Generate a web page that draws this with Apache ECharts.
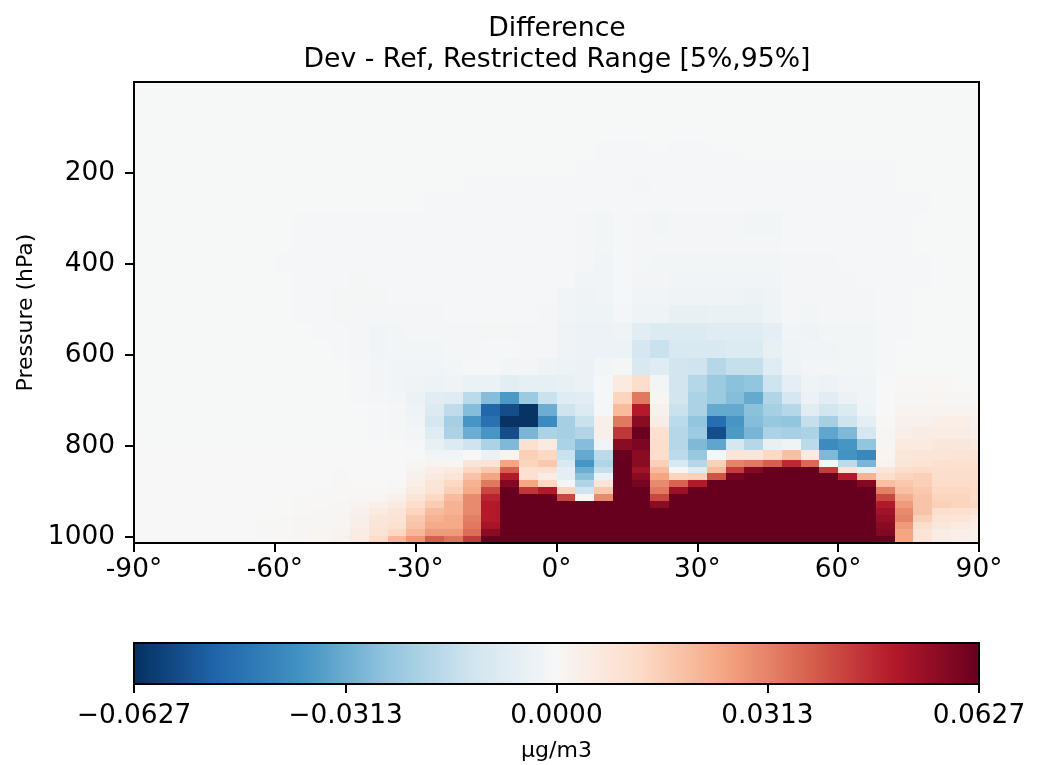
<!DOCTYPE html>
<html><head><meta charset="utf-8">
<style>html,body{margin:0;padding:0;background:#fff}#c{width:1053px;height:765px}</style>
<script src="https://cdn.jsdelivr.net/npm/echarts@6/dist/echarts.min.js"></script>
</head><body><div id="c"></div>
<script>
const titleLines = ['Difference', 'Dev - Ref, Restricted Range [5%,95%]'];
const yName = 'Pressure (hPa)';
const unitName = 'µg/m3';
const latTicks = [-90, -60, -30, 0, 30, 60, 90];
const pressureTicks = [200, 400, 600, 800, 1000];
const colorbarTicks = [-0.0627, -0.0313, 0, 0.0313, 0.0627];
const colorMin = -0.0627, colorMax = 0.0627;
const rdBuR = ['#053061','#2166ac','#4393c3','#92c5de','#d1e5f0','#f7f7f7','#fddbc7','#f4a582','#d6604d','#b2182b','#67001f'];
const latEdges = [-90,-88,-84,-80,-76,-72,-68,-64,-60,-56,-52,-48,-44,-40,-36,-32,-28,-24,-20,-16,-12,-8,-4,0,4,8,12,16,20,24,28,32,36,40,44,48,52,56,60,64,68,72,76,80,84,88,90];
const pressureEdges = [1013.25,998.05,982.76,967.48,952.19,936.91,921.62,906.34,891.05,875.77,860.48,845.21,829.93,809.55,784.08,758.6,733.13,707.65,682.18,643.96,605.75,567.54,529.33,491.12,452.9,414.69,376.48,338.27,288.08,244.88,208.15,176.93,150.39,127.84,0.01];
// Difference in units of 1e-3 ug/m3: one row per level, surface first, west to east.
const diffRows = [
[0,0,0,0,0,0,0,.3,.5,1,1.2,2.2,6,12,21,28,38,34,44,63,63,63,63,63,63,63,63,63,63,63,63,63,63,63,63,63,63,63,63,63,62,25,9,5,4,3],
[0,0,0,0,0,0,0,.3,.5,.8,1.2,2,5,9,13,21,27,27,35,57,63,63,63,63,63,63,63,63,63,63,63,63,63,63,63,63,63,63,63,63,58,25,9,5,4,3],
[0,0,0,0,0,0,0,.3,.4,.8,1,1.5,4,8,10,18,24,24,33,52,63,63,63,63,63,63,63,63,63,63,63,63,63,63,63,63,63,63,63,63,57,27,11,7,6,4],
[0,0,0,0,0,0,0,.2,.3,.7,1,1.5,4,7,9,17,22,24,32,50,63,63,63,63,63,63,63,63,63,63,63,63,63,63,63,63,63,63,63,63,55,31,15,9,8,6],
[0,0,0,0,0,0,0,0,.2,.5,.8,1,3,6,8,14,20,22,30,50,63,63,63,63,63,63,63,63,63,63,63,63,63,63,63,63,63,63,63,63,53,30,18,11,10,9],
[0,0,0,0,0,0,0,0,.2,.4,.6,1,2,4,6,11,16,22,30,50,63,63,63,63,63,63,63,63,57,63,63,63,63,63,63,63,63,63,63,63,50,27,18,15,14,13],
[0,0,0,0,0,0,0,0,0,.3,.5,.5,1,1.5,3,8,13,20,30,48,63,63,63,42,1,30,63,63,42,63,63,63,63,63,63,63,63,63,63,63,42,23,18,14,14,12],
[0,0,0,0,0,0,0,0,0,0,.3,.5,.5,.5,1.5,6,9,15,24,42,63,45,50,14,-13,17,63,63,33,54,63,63,63,63,63,63,63,63,63,63,32,19,17,13,13,12],
[0,0,0,0,0,0,0,0,0,0,0,.3,0,-.1,.3,4,8,13,22,33,58,25,13,-1,-19,8,63,60,30,37,50,63,63,63,63,63,63,63,63,58,19,17,15,12,12,11],
[0,0,0,0,0,0,0,0,0,0,0,.3,-.1,-.1,0,3,6,8,18,25,50,10,5,-6,-26,-4,63,57,25,14,15,40,60,63,63,63,63,63,50,22,11,14,15,11,11,11],
[0,0,0,0,0,0,0,0,0,0,0,.3,0,0,0,2,4,6,13,17,38,10,10,-6,-31,-15,63,53,20,1,-8,20,44,58,63,63,63,44,9,-5,8,11,12,11,11,11],
[0,0,0,0,0,0,0,0,0,0,0,0,0,0,0,1,2,1.5,8,9,25,14,17,-10,-37,-19,63,57,15,-10,-18,15,31,33,38,47,36,-1,-17,-29,2,8,9,10,10,10],
[0,0,0,0,0,0,0,0,0,0,0,0,0,0,0,-.3,-2,-2,0,-4,2,15,13,-14,-32,-17,63,57,11,-17,-24,-1,8,7,13,19,6,-28,-38,-41,1.5,7,8,8,9,9],
[0,0,0,0,0,0,0,0,0,0,0,0,0,0,-.3,-.7,-5,-9,-13,-20,-28,10,6,-20,-27,-2,57,59,11,-18,-28,-33,-11,-18,-5,-3,-17,-40,-37,-25,1,6,6,7,7,6],
[-.2,-.2,-.2,-.2,-.2,-.2,-.2,-.2,-.2,-.2,-.2,-.2,-.3,-.6,-1,-1.5,-8,-20,-31,-37,-56,-29,-20,-21,-19,4,45,62,10,-18,-23,-56,-36,-29,-20,-21,-20,-33,-28,-11,1,4,5,5,5,4],
[-.2,-.2,-.2,-.2,-.2,-.2,-.2,-.2,-.2,-.2,-.2,-.2,-.3,-.6,-1,-2,-11,-21,-37,-47,-62,-62,-40,-21,-14,4,33,57,5,-17,-25,-48,-37,-27,-24,-25,-15,-21,-13,-6,.5,3,3,4,4,3],
[-.3,-.3,-.3,-.3,-.3,-.3,-.3,-.3,-.3,-.3,-.3,-.2,-.3,-.6,-1,-3,-9,-16,-27,-50,-56,-62,-31,-13,-9,-.5,20,50,3,-14,-20,-32,-32,-26,-21,-18,-7,-12,-9,-3,0,2,2,2,2,2],
[-.3,-.3,-.3,-.3,-.3,-.3,-.3,-.3,-.3,-.3,-.3,-.2,-.6,-1,-1.5,-4,-7,-8,-17,-27,-36,-23,-14,-8,-7,-.5,14,33,1.5,-12,-20,-23,-27,-32,-19,-11,-4,-7,-4,-2,0,1,1,1.5,1,.5],
[-.3,-.3,-.3,-.3,-.3,-.3,-.3,-.3,-.3,-.3,-.3,-.3,-.7,-1.8,-2.2,-2.8,-3.5,-2.5,-3.8,-3.8,-6.5,-5.5,-5.5,-5,-4,-.6,6,11,-1.5,-12,-18,-23,-26,-25,-13,-6,-3,-3.5,-2,-2,0,.5,.5,.5,.2,0],
[-.3,-.3,-.3,-.3,-.3,-.3,-.3,-.3,-.3,-.3,-.3,-.3,-.8,-1.8,-2.2,-2,-2,-1.5,-.8,-.8,-1.5,-1.8,-3,-3.5,-4,-1.5,-1,-10,-8,-12,-13,-18,-15,-15,-8,-3,-1.8,-1.8,-1.5,-1.5,-.6,-.3,-.3,-.3,-.3,-.3],
[-.3,-.3,-.3,-.3,-.3,-.3,-.3,-.3,-.3,-.3,-.3,-.5,-.9,-2,-1.8,-1.6,-1.6,-1.2,-1.2,-.8,-.8,-1.2,-1.4,-2.5,-3.5,-3.5,-3.5,-11,-14,-10,-10,-10,-9,-9,-5,-2.5,-2,-2,-1.5,-1.5,-.6,-.3,-.3,-.3,-.3,-.3],
[-.3,-.3,-.3,-.3,-.3,-.3,-.3,-.3,-.3,-.3,-.5,-.8,-1.1,-2,-1.5,-1.1,-1.1,-1.1,-1.1,-1,-1,-1.1,-1.1,-2.5,-3.5,-3.5,-2.5,-7,-9,-9,-9,-8,-8,-8,-6,-2,-2.5,-1.5,-1.5,-1.5,-.6,-.6,-.3,-.3,-.3,-.3],
[-.3,-.3,-.3,-.3,-.3,-.3,-.3,-.3,-.3,-.8,-.8,-.9,-1.1,-1.4,-1.4,-1.1,-1.1,-.8,-.8,-.8,-.8,-.8,-1.1,-2.4,-3,-3,-1.1,-2.5,-3,-5,-5,-4.5,-4.5,-4.5,-3,-1.4,-1.6,-1.4,-1.4,-1,-.6,-.5,-.3,-.3,-.3,-.3],
[-.3,-.3,-.3,-.3,-.3,-.3,-.3,-.3,-.3,-.8,-.8,-.9,-1,-.9,-.8,-.8,-.8,-.8,-.8,-.8,-.8,-.8,-.8,-2,-2.6,-2.4,-.8,-2,-2,-2.6,-2.6,-2.8,-2.8,-3.2,-2.6,-1.4,-1.4,-1.4,-1.2,-1,-.6,-.6,-.3,-.3,-.3,-.3],
[-.3,-.3,-.3,-.3,-.3,-.3,-.3,-.3,-.3,-.8,-.8,-.8,-.9,-.8,-.8,-.8,-.8,-.8,-.8,-.8,-.8,-.8,-.8,-.8,-1.9,-2,-.8,-1.8,-1.8,-2,-2,-2,-2,-2,-2,-1.4,-1.4,-1.4,-1,-.8,-.8,-.8,-.8,-.3,-.3,-.3],
[-.3,-.3,-.3,-.3,-.3,-.3,-.3,-.3,-.8,-.8,-.8,-.8,-.8,-.8,-.8,-.8,-.8,-.8,-.8,-.8,-.8,-.8,-.8,-.8,-1.2,-2,-.8,-1.1,-1.5,-1.6,-1.6,-1.6,-1.6,-1.6,-1.6,-1.1,-1.1,-1.1,-.8,-.8,-.8,-.8,-.8,-.3,-.3,-.3],
[-.3,-.3,-.3,-.3,-.3,-.3,-.3,-.3,-.3,-.8,-.8,-.8,-.8,-.8,-.8,-.8,-.8,-.8,-.8,-.8,-.8,-.8,-.8,-.8,-1.2,-1.7,-.8,-1.1,-1.4,-1.4,-1.4,-1.4,-1.4,-1.4,-1.2,-.8,-.8,-.8,-.8,-.8,-.8,-.8,-.3,-.3,-.3,-.3],
[-.3,-.3,-.3,-.3,-.3,-.3,-.3,-.3,-.3,-.8,-.8,-.8,-.8,-.8,-.8,-.8,-.8,-.8,-.8,-.8,-.8,-.8,-.8,-.8,-1.1,-1.6,-.8,-1.1,-1.5,-1.1,-1.1,-1.1,-1.1,-1.5,-1.5,-.8,-.8,-.8,-.8,-.8,-.8,-.8,-.3,-.3,-.3,-.3],
[-.3,-.3,-.3,-.3,-.3,-.3,-.3,-.3,-.3,-.3,-.3,-.3,-.3,-.3,-.3,-.3,-.8,-.8,-.8,-.8,-.8,-.8,-.8,-.8,-.8,-.8,-.8,-.8,-.8,-.8,-.8,-.8,-.8,-.8,-.8,-.8,-.8,-.8,-.8,-.8,-.8,-.8,-.8,-.3,-.3,-.3],
[-.3,-.3,-.3,-.3,-.3,-.3,-.3,-.3,-.3,-.3,-.3,-.3,-.3,-.3,-.3,-.3,-.3,-.3,-.8,-.8,-.8,-.8,-.8,-.8,-.8,-.8,-.8,-1.2,-.8,-.8,-.8,-.8,-.8,-.8,-.8,-.8,-.8,-.8,-.8,-.8,-.8,-.3,-.3,-.3,-.3,-.3],
[-.3,-.3,-.3,-.3,-.3,-.3,-.3,-.3,-.3,-.3,-.3,-.3,-.3,-.3,-.3,-.3,-.3,-.3,-.3,-.3,-.3,-.3,-.3,-.3,-.8,-.8,-.8,-.8,-.8,-.8,-.8,-.8,-.8,-.8,-.8,-.8,-.8,-.8,-.8,-.8,-.8,-.3,-.3,-.3,-.3,-.3],
[-.3,-.3,-.3,-.3,-.3,-.3,-.3,-.3,-.3,-.3,-.3,-.3,-.3,-.3,-.3,-.3,-.3,-.3,-.3,-.3,-.3,-.3,-.3,-.3,-.3,-.8,-.8,-.8,-.8,-.8,-.8,-.8,-.8,-.3,-.3,-.3,-.3,-.3,-.3,-.3,-.3,-.3,-.3,-.3,-.3,-.3],
[-.3,-.3,-.3,-.3,-.3,-.3,-.3,-.3,-.3,-.3,-.3,-.3,-.3,-.3,-.3,-.3,-.3,-.3,-.3,-.3,-.3,-.3,-.3,-.3,-.3,-.8,-.8,-.8,-.3,-.8,-.8,-.3,-.3,-.3,-.3,-.3,-.3,-.3,-.3,-.3,-.3,-.3,-.3,-.3,-.3,-.3],
[-.3,-.3,-.3,-.3,-.3,-.3,-.3,-.3,-.3,-.3,-.3,-.3,-.3,-.3,-.3,-.3,-.3,-.3,-.3,-.3,-.3,-.3,-.3,-.3,-.3,-.3,-.3,-.3,-.3,-.3,-.3,-.3,-.3,-.3,-.3,-.3,-.3,-.3,-.3,-.3,-.3,-.3,-.3,-.3,-.3,-.3]
];

const FONT = '"DejaVu Sans"';
const cells = [];
diffRows.forEach((row, r) => row.forEach((v, k) => {
  cells.push([latEdges[k], latEdges[k + 1], pressureEdges[r], pressureEdges[r + 1], Math.min(v / 1000, colorMax)]);
}));
const chart = echarts.init(document.getElementById('c'), null, {renderer: 'canvas'});
const axisLine = {show: true, onZero: false, lineStyle: {color: '#000', width: 2}};
const axisTick = {show: true, length: 9, lineStyle: {color: '#000', width: 2}};
chart.setOption({
  animation: false,
  backgroundColor: '#fff',
  title: {
    text: titleLines.join('\n'), left: 552, top: 9, textAlign: 'center',
    textStyle: {fontFamily: FONT, fontSize: 26.7, fontWeight: 'normal', color: '#000', lineHeight: 31}
  },
  grid: [
    {left: 134, top: 82, width: 845, height: 461, show: true, borderColor: '#000', borderWidth: 2, backgroundColor: 'transparent', z: 10},
    {left: 134, top: 643, width: 845, height: 41, show: true, borderColor: '#000', borderWidth: 2, backgroundColor: 'transparent', z: 10}
  ],
  xAxis: [
    {type: 'value', gridIndex: 0, min: -90, max: 90, interval: 30, splitLine: {show: false}, axisLine, axisTick,
     axisLabel: {fontFamily: FONT, fontSize: 26.4, color: '#000', margin: 14, showMinLabel: true, showMaxLabel: true, formatter: v => v + '°'}},
    {type: 'value', gridIndex: 1, min: colorMin, max: colorMax, splitLine: {show: false}, axisLine,
     axisTick: {...axisTick, customValues: colorbarTicks},
     axisLabel: {fontFamily: FONT, fontSize: 26.4, color: '#000', margin: 19, customValues: colorbarTicks,
       formatter: v => (v < 0 ? '\u2212' : '') + Math.abs(v).toFixed(4)},
     name: unitName, nameLocation: 'middle', nameGap: 56, nameTextStyle: {fontFamily: FONT, fontSize: 22, color: '#000'}}
  ],
  yAxis: [
    {type: 'value', gridIndex: 0, inverse: true, min: 0.01, max: 1013.25, splitLine: {show: false}, axisLine,
     axisTick: {...axisTick, customValues: pressureTicks},
     axisLabel: {fontFamily: FONT, fontSize: 26.4, color: '#000', margin: 19, customValues: pressureTicks, formatter: v => String(v)},
     name: yName, nameLocation: 'middle', nameGap: 97, nameTextStyle: {fontFamily: FONT, fontSize: 22, color: '#000'}},
    {type: 'value', gridIndex: 1, min: 0, max: 1, show: false}
  ],
  visualMap: {
    type: 'continuous', show: true, orient: 'horizontal', left: 134, top: 643, padding: 0,
    itemWidth: 41, itemHeight: 845, min: colorMin, max: colorMax, dimension: 4, seriesIndex: 0,
    calculable: false, hoverLink: false, inRange: {color: rdBuR}, text: null, showLabel: false, z: 4
  },
  series: [{
    type: 'custom', xAxisIndex: 0, yAxisIndex: 0, data: cells, clip: true, silent: true, z: 2,
    encode: {x: [0, 1], y: [2, 3]},
    renderItem(params, api) {
      const a = api.coord([api.value(0), api.value(2)]);
      const b = api.coord([api.value(1), api.value(3)]);
      const x0 = Math.round(a[0]), x1 = Math.round(b[0]), y0 = Math.round(a[1]), y1 = Math.round(b[1]);
      return {type: 'rect', shape: {x: x0, y: Math.min(y0, y1), width: x1 - x0, height: Math.abs(y1 - y0)},
        style: {fill: api.visual('color')}};
    }
  }]
});
</script></body></html>
